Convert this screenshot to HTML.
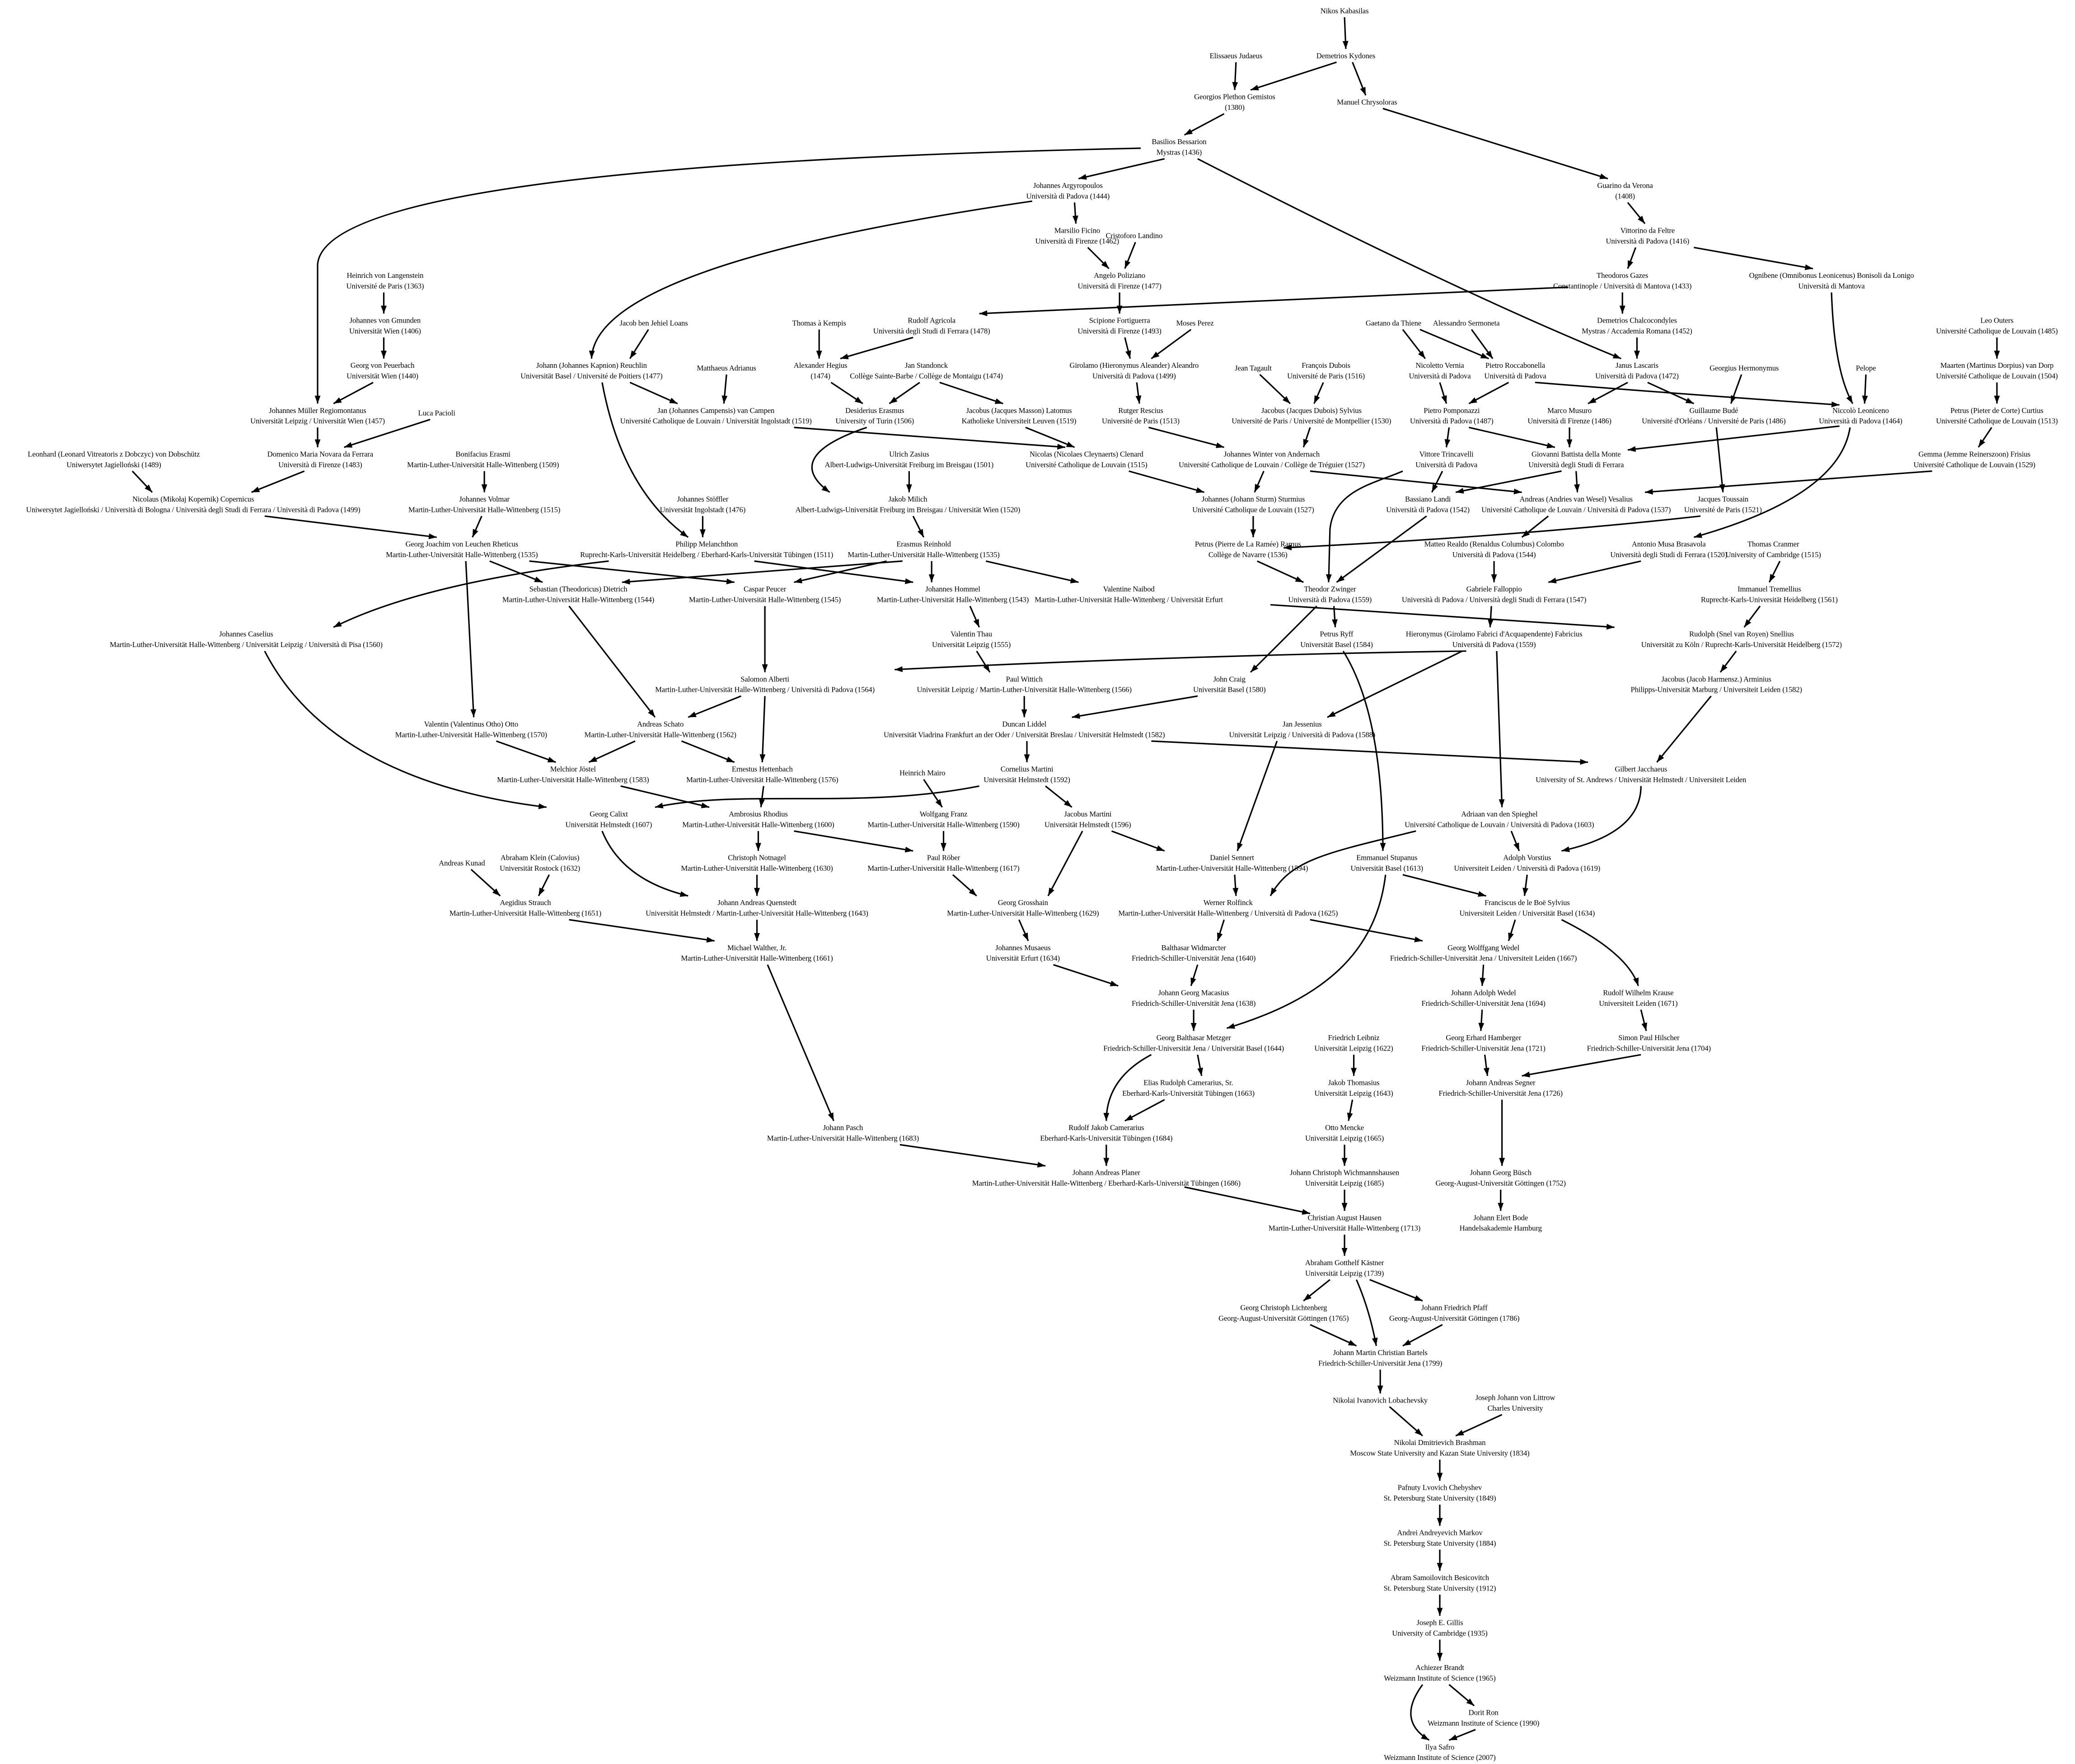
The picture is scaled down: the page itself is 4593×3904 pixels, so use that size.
<!DOCTYPE html>
<html><head><meta charset="utf-8"><style>
html,body{margin:0;padding:0;background:#fff;}
svg{display:block;}
text{font-family:"Liberation Serif","DejaVu Serif",serif;font-size:5.7px;letter-spacing:-0.05px;text-anchor:middle;fill:#000;}
path{fill:none;stroke:#000;stroke-width:1.1;}
</style></head><body>
<svg width="4593" height="3904" viewBox="0 0 1568 1333" preserveAspectRatio="none" xmlns="http://www.w3.org/2000/svg">
<defs><marker id="a" markerUnits="userSpaceOnUse" markerWidth="7" markerHeight="5" refX="6" refY="2.2" orient="auto"><path d="M0,0 L6,2.2 L0,4.4 z" style="fill:#000;stroke:none"/></marker></defs>
<rect width="1568" height="1333" fill="#fff"/>
<g marker-end="url(#a)">
<path d="M1016,13 L1017,37"/>
<path d="M934,47 L933,68"/>
<path d="M1010,47 L945,68"/>
<path d="M1022,47 L1032,72"/>
<path d="M925,86 L895,102"/>
<path d="M1045,82 L1215,135"/>
<path d="M880,120 L815,135"/>
<path d="M862,112 Q245,125 240,200 L240,305"/>
<path d="M905,120 Q1100,220 1225,271"/>
<path d="M1230,153 L1243,169"/>
<path d="M812,153 L813,169"/>
<path d="M780,152 Q450,200 447,271"/>
<path d="M1236,187 L1230,203"/>
<path d="M1280,187 L1370,203"/>
<path d="M822,187 L838,203"/>
<path d="M858,183 L850,203"/>
<path d="M846,221 L846,237"/>
<path d="M1185,217 Q900,230 740,237"/>
<path d="M1226,221 L1226,237"/>
<path d="M1384,221 Q1386,280 1400,305"/>
<path d="M290,221 L290,237"/>
<path d="M290,255 L290,271"/>
<path d="M282,289 L252,305"/>
<path d="M490,249 L476,271"/>
<path d="M619,249 L619,271"/>
<path d="M690,255 L635,271"/>
<path d="M850,255 L854,271"/>
<path d="M900,249 L870,271"/>
<path d="M1060,249 L1077,271"/>
<path d="M1073,249 L1125,271"/>
<path d="M1112,249 L1128,271"/>
<path d="M1237,255 L1237,271"/>
<path d="M1509,255 L1509,271"/>
<path d="M476,289 L512,305"/>
<path d="M455,289 Q470,370 520,406"/>
<path d="M549,283 L547,305"/>
<path d="M628,289 L652,305"/>
<path d="M695,289 L672,305"/>
<path d="M710,289 L758,305"/>
<path d="M859,289 L861,305"/>
<path d="M952,283 L975,305"/>
<path d="M1000,289 L993,305"/>
<path d="M1088,289 L1093,305"/>
<path d="M1140,289 L1110,305"/>
<path d="M1160,289 Q1300,300 1390,306"/>
<path d="M1230,289 L1200,305"/>
<path d="M1245,289 L1280,305"/>
<path d="M1316,283 L1308,305"/>
<path d="M1410,283 L1409,305"/>
<path d="M1509,289 L1509,305"/>
<path d="M240,323 L240,338"/>
<path d="M325,317 L260,338"/>
<path d="M600,323 L805,338"/>
<path d="M655,323 Q590,345 627,372"/>
<path d="M775,323 L812,338"/>
<path d="M868,323 L925,338"/>
<path d="M990,323 L985,338"/>
<path d="M1095,323 L1093,338"/>
<path d="M1110,323 L1175,338"/>
<path d="M1186,323 L1186,338"/>
<path d="M1390,322 L1230,340"/>
<path d="M1505,323 L1495,338"/>
<path d="M100,356 L115,372"/>
<path d="M230,356 L190,372"/>
<path d="M366,356 L366,372"/>
<path d="M687,356 L687,372"/>
<path d="M853,356 L910,372"/>
<path d="M955,356 L948,372"/>
<path d="M990,356 L1150,372"/>
<path d="M1090,356 L1082,372"/>
<path d="M1060,356 C1040,365 1008,370 1005,400 L1004,440"/>
<path d="M1180,356 L1100,372"/>
<path d="M1191,356 L1192,372"/>
<path d="M1460,356 L1243,372"/>
<path d="M1297,323 L1302,372"/>
<path d="M1398,323 Q1390,375 1280,406"/>
<path d="M200,390 L330,406"/>
<path d="M364,390 L357,406"/>
<path d="M531,390 L531,406"/>
<path d="M690,390 L698,406"/>
<path d="M947,390 L947,406"/>
<path d="M1078,390 L1010,440"/>
<path d="M1170,390 L1150,406"/>
<path d="M1285,390 Q1150,405 970,414"/>
<path d="M370,424 L410,440"/>
<path d="M400,424 L555,440"/>
<path d="M352,424 L358,542"/>
<path d="M460,424 Q320,440 252,474"/>
<path d="M570,424 L690,440"/>
<path d="M682,424 L470,440"/>
<path d="M670,424 L600,440"/>
<path d="M704,424 L704,440"/>
<path d="M745,424 L815,440"/>
<path d="M950,424 L985,440"/>
<path d="M1129,424 L1129,440"/>
<path d="M1240,424 L1170,440"/>
<path d="M1345,424 L1337,440"/>
<path d="M430,458 L495,542"/>
<path d="M578,458 L578,508"/>
<path d="M733,458 L740,474"/>
<path d="M960,457 L1220,474"/>
<path d="M1008,458 L1009,474"/>
<path d="M995,458 L945,508"/>
<path d="M1127,458 L1126,474"/>
<path d="M1330,458 L1318,474"/>
<path d="M200,492 C240,570 330,600 413,610"/>
<path d="M738,492 L748,508"/>
<path d="M1015,492 Q1045,540 1045,643"/>
<path d="M1108,492 Q900,495 676,506"/>
<path d="M1105,492 L1003,542"/>
<path d="M1131,492 L1135,610"/>
<path d="M1312,492 L1300,508"/>
<path d="M560,526 L520,542"/>
<path d="M578,526 L576,576"/>
<path d="M774,526 L774,542"/>
<path d="M905,526 L810,542"/>
<path d="M1293,526 L1252,576"/>
<path d="M375,560 L420,576"/>
<path d="M480,560 L445,576"/>
<path d="M515,560 L555,576"/>
<path d="M776,560 L776,576"/>
<path d="M870,560 L1200,576"/>
<path d="M965,560 L935,643"/>
<path d="M469,594 L536,610"/>
<path d="M577,594 L575,610"/>
<path d="M740,594 C650,612 560,596 495,610"/>
<path d="M790,594 L810,610"/>
<path d="M1240,594 Q1240,630 1180,643"/>
<path d="M698,589 L712,610"/>
<path d="M455,628 Q470,665 520,677"/>
<path d="M573,628 L573,643"/>
<path d="M600,628 L690,643"/>
<path d="M713,628 L713,643"/>
<path d="M840,628 L880,643"/>
<path d="M818,628 L792,677"/>
<path d="M1142,628 L1148,643"/>
<path d="M1070,628 C1000,645 975,650 960,677"/>
<path d="M356,657 L378,677"/>
<path d="M415,661 L407,677"/>
<path d="M572,661 L572,677"/>
<path d="M720,661 L738,677"/>
<path d="M933,661 L934,677"/>
<path d="M1060,661 L1123,677"/>
<path d="M1047,661 C1040,720 1000,755 927,777"/>
<path d="M1154,661 L1152,677"/>
<path d="M430,695 L540,711"/>
<path d="M572,695 L572,711"/>
<path d="M770,695 L777,711"/>
<path d="M925,695 L920,711"/>
<path d="M990,695 L1075,711"/>
<path d="M1145,695 L1140,711"/>
<path d="M1180,695 Q1230,720 1238,745"/>
<path d="M580,729 L630,847"/>
<path d="M796,729 L845,745"/>
<path d="M905,729 L900,745"/>
<path d="M1121,729 L1120,745"/>
<path d="M902,763 L902,779"/>
<path d="M1120,763 L1119,779"/>
<path d="M1240,763 L1244,779"/>
<path d="M905,797 L908,813"/>
<path d="M870,797 Q836,815 836,847"/>
<path d="M1023,797 L1023,813"/>
<path d="M1122,797 L1124,813"/>
<path d="M1240,797 L1150,813"/>
<path d="M880,831 L850,847"/>
<path d="M1022,831 L1019,847"/>
<path d="M1135,831 L1135,881"/>
<path d="M680,865 L790,881"/>
<path d="M836,865 L836,881"/>
<path d="M1016,865 L1016,881"/>
<path d="M895,897 L990,917"/>
<path d="M1016,899 L1016,915"/>
<path d="M1134,899 L1134,915"/>
<path d="M1016,933 L1016,949"/>
<path d="M1005,967 L985,983"/>
<path d="M1035,967 L1075,983"/>
<path d="M1025,967 Q1035,990 1040,1017"/>
<path d="M990,1001 L1025,1017"/>
<path d="M1090,1001 L1060,1017"/>
<path d="M1043,1035 L1043,1053"/>
<path d="M1050,1063 L1075,1085"/>
<path d="M1135,1069 L1100,1085"/>
<path d="M1088,1103 L1088,1119"/>
<path d="M1088,1137 L1088,1153"/>
<path d="M1088,1171 L1088,1187"/>
<path d="M1088,1205 L1088,1221"/>
<path d="M1088,1239 L1088,1255"/>
<path d="M1095,1273 L1114,1289"/>
<path d="M1075,1273 Q1055,1300 1080,1315"/>
<path d="M1115,1307 L1095,1315"/>
</g>
<g>
<text x="1016" y="10">Nikos Kabasilas</text>
<text x="934" y="44">Elissaeus Judaeus</text>
<text x="1017" y="44">Demetrios Kydones</text>
<text x="933" y="75">Georgios Plethon Gemistos<tspan x="933" dy="8">(1380)</tspan></text>
<text x="1033" y="79">Manuel Chrysoloras</text>
<text x="891" y="109">Basilios Bessarion<tspan x="891" dy="8">Mystras (1436)</tspan></text>
<text x="1228" y="142">Guarino da Verona<tspan x="1228" dy="8">(1408)</tspan></text>
<text x="807" y="142">Johannes Argyropoulos<tspan x="807" dy="8">Università di Padova (1444)</tspan></text>
<text x="1245" y="176">Vittorino da Feltre<tspan x="1245" dy="8">Università di Padova (1416)</tspan></text>
<text x="814" y="176">Marsilio Ficino<tspan x="814" dy="8">Università di Firenze (1462)</tspan></text>
<text x="857" y="180">Cristoforo Landino</text>
<text x="846" y="210">Angelo Poliziano<tspan x="846" dy="8">Università di Firenze (1477)</tspan></text>
<text x="1226" y="210">Theodoros Gazes<tspan x="1226" dy="8">Constantinople / Università di Mantova (1433)</tspan></text>
<text x="1384" y="210">Ognibene (Omnibonus Leonicenus) Bonisoli da Lonigo<tspan x="1384" dy="8">Università di Mantova</tspan></text>
<text x="291" y="210">Heinrich von Langenstein<tspan x="291" dy="8">Université de Paris (1363)</tspan></text>
<text x="291" y="244">Johannes von Gmunden<tspan x="291" dy="8">Universität Wien (1406)</tspan></text>
<text x="494" y="246">Jacob ben Jehiel Loans</text>
<text x="619" y="246">Thomas à Kempis</text>
<text x="704" y="244">Rudolf Agricola<tspan x="704" dy="8">Università degli Studi di Ferrara (1478)</tspan></text>
<text x="846" y="244">Scipione Fortiguerra<tspan x="846" dy="8">Università di Firenze (1493)</tspan></text>
<text x="903" y="246">Moses Perez</text>
<text x="1053" y="246">Gaetano da Thiene</text>
<text x="1108" y="246">Alessandro Sermoneta</text>
<text x="1237" y="244">Demetrios Chalcocondyles<tspan x="1237" dy="8">Mystras / Accademia Romana (1452)</tspan></text>
<text x="1509" y="244">Leo Outers<tspan x="1509" dy="8">Université Catholique de Louvain (1485)</tspan></text>
<text x="289" y="278">Georg von Peuerbach<tspan x="289" dy="8">Universität Wien (1440)</tspan></text>
<text x="447" y="278">Johann (Johannes Kapnion) Reuchlin<tspan x="447" dy="8">Universität Basel / Université de Poitiers (1477)</tspan></text>
<text x="549" y="280">Matthaeus Adrianus</text>
<text x="620" y="278">Alexander Hegius<tspan x="620" dy="8">(1474)</tspan></text>
<text x="700" y="278">Jan Standonck<tspan x="700" dy="8">Collège Sainte-Barbe / Collège de Montaigu (1474)</tspan></text>
<text x="857" y="278">Girolamo (Hieronymus Aleander) Aleandro<tspan x="857" dy="8">Università di Padova (1499)</tspan></text>
<text x="947" y="280">Jean Tagault</text>
<text x="1002" y="278">François Dubois<tspan x="1002" dy="8">Université de Paris (1516)</tspan></text>
<text x="1088" y="278">Nicoletto Vernia<tspan x="1088" dy="8">Università di Padova</tspan></text>
<text x="1145" y="278">Pietro Roccabonella<tspan x="1145" dy="8">Università di Padova</tspan></text>
<text x="1237" y="278">Janus Lascaris<tspan x="1237" dy="8">Università di Padova (1472)</tspan></text>
<text x="1318" y="280">Georgius Hermonymus</text>
<text x="1509" y="278">Maarten (Martinus Dorpius) van Dorp<tspan x="1509" dy="8">Université Catholique de Louvain (1504)</tspan></text>
<text x="1410" y="280">Pelope</text>
<text x="240" y="312">Johannes Müller Regiomontanus<tspan x="240" dy="8">Universität Leipzig / Universität Wien (1457)</tspan></text>
<text x="330" y="314">Luca Pacioli</text>
<text x="541" y="312">Jan (Johannes Campensis) van Campen<tspan x="541" dy="8">Université Catholique de Louvain / Universität Ingolstadt (1519)</tspan></text>
<text x="661" y="312">Desiderius Erasmus<tspan x="661" dy="8">University of Turin (1506)</tspan></text>
<text x="770" y="312">Jacobus (Jacques Masson) Latomus<tspan x="770" dy="8">Katholieke Universiteit Leuven (1519)</tspan></text>
<text x="862" y="312">Rutger Rescius<tspan x="862" dy="8">Université de Paris (1513)</tspan></text>
<text x="991" y="312">Jacobus (Jacques Dubois) Sylvius<tspan x="991" dy="8">Université de Paris / Université de Montpellier (1530)</tspan></text>
<text x="1097" y="312">Pietro Pomponazzi<tspan x="1097" dy="8">Università di Padova (1487)</tspan></text>
<text x="1186" y="312">Marco Musuro<tspan x="1186" dy="8">Università di Firenze (1486)</tspan></text>
<text x="1295" y="312">Guillaume Budé<tspan x="1295" dy="8">Université d'Orléans / Université de Paris (1486)</tspan></text>
<text x="1406" y="312">Niccolò Leoniceno<tspan x="1406" dy="8">Università di Padova (1464)</tspan></text>
<text x="1509" y="312">Petrus (Pieter de Corte) Curtius<tspan x="1509" dy="8">Université Catholique de Louvain (1513)</tspan></text>
<text x="86" y="345">Leonhard (Leonard Vitreatoris z Dobczyc) von Dobschütz<tspan x="86" dy="8">Uniwersytet Jagielloński (1489)</tspan></text>
<text x="242" y="345">Domenico Maria Novara da Ferrara<tspan x="242" dy="8">Università di Firenze (1483)</tspan></text>
<text x="365" y="345">Bonifacius Erasmi<tspan x="365" dy="8">Martin-Luther-Universität Halle-Wittenberg (1509)</tspan></text>
<text x="687" y="345">Ulrich Zasius<tspan x="687" dy="8">Albert-Ludwigs-Universität Freiburg im Breisgau (1501)</tspan></text>
<text x="821" y="345">Nicolas (Nicolaes Cleynaerts) Clenard<tspan x="821" dy="8">Université Catholique de Louvain (1515)</tspan></text>
<text x="961" y="345">Johannes Winter von Andernach<tspan x="961" dy="8">Université Catholique de Louvain / Collège de Tréguier (1527)</tspan></text>
<text x="1093" y="345">Vittore Trincavelli<tspan x="1093" dy="8">Università di Padova</tspan></text>
<text x="1191" y="345">Giovanni Battista della Monte<tspan x="1191" dy="8">Università degli Studi di Ferrara</tspan></text>
<text x="1492" y="345">Gemma (Jemme Reinerszoon) Frisius<tspan x="1492" dy="8">Université Catholique de Louvain (1529)</tspan></text>
<text x="146" y="379">Nicolaus (Mikołaj Kopernik) Copernicus<tspan x="146" dy="8">Uniwersytet Jagielloński / Università di Bologna / Università degli Studi di Ferrara / Università di Padova (1499)</tspan></text>
<text x="366" y="379">Johannes Volmar<tspan x="366" dy="8">Martin-Luther-Universität Halle-Wittenberg (1515)</tspan></text>
<text x="531" y="379">Johannes Stöffler<tspan x="531" dy="8">Universität Ingolstadt (1476)</tspan></text>
<text x="686" y="379">Jakob Milich<tspan x="686" dy="8">Albert-Ludwigs-Universität Freiburg im Breisgau / Universität Wien (1520)</tspan></text>
<text x="947" y="379">Johannes (Johann Sturm) Sturmius<tspan x="947" dy="8">Université Catholique de Louvain (1527)</tspan></text>
<text x="1079" y="379">Bassiano Landi<tspan x="1079" dy="8">Università di Padova (1542)</tspan></text>
<text x="1191" y="379">Andreas (Andries van Wesel) Vesalius<tspan x="1191" dy="8">Université Catholique de Louvain / Università di Padova (1537)</tspan></text>
<text x="1302" y="379">Jacques Toussain<tspan x="1302" dy="8">Université de Paris (1521)</tspan></text>
<text x="349" y="413">Georg Joachim von Leuchen Rheticus<tspan x="349" dy="8">Martin-Luther-Universität Halle-Wittenberg (1535)</tspan></text>
<text x="534" y="413">Philipp Melanchthon<tspan x="534" dy="8">Ruprecht-Karls-Universität Heidelberg / Eberhard-Karls-Universität Tübingen (1511)</tspan></text>
<text x="698" y="413">Erasmus Reinhold<tspan x="698" dy="8">Martin-Luther-Universität Halle-Wittenberg (1535)</tspan></text>
<text x="943" y="413">Petrus (Pierre de La Ramée) Ramus<tspan x="943" dy="8">Collège de Navarre (1536)</tspan></text>
<text x="1129" y="413">Matteo Realdo (Renaldus Columbus) Colombo<tspan x="1129" dy="8">Università di Padova (1544)</tspan></text>
<text x="1261" y="413">Antonio Musa Brasavola<tspan x="1261" dy="8">Università degli Studi di Ferrara (1520)</tspan></text>
<text x="1340" y="413">Thomas Cranmer<tspan x="1340" dy="8">University of Cambridge (1515)</tspan></text>
<text x="437" y="447">Sebastian (Theodoricus) Dietrich<tspan x="437" dy="8">Martin-Luther-Universität Halle-Wittenberg (1544)</tspan></text>
<text x="578" y="447">Caspar Peucer<tspan x="578" dy="8">Martin-Luther-Universität Halle-Wittenberg (1545)</tspan></text>
<text x="720" y="447">Johannes Hommel<tspan x="720" dy="8">Martin-Luther-Universität Halle-Wittenberg (1543)</tspan></text>
<text x="853" y="447">Valentine Naibod<tspan x="853" dy="8">Martin-Luther-Universität Halle-Wittenberg / Universität Erfurt</tspan></text>
<text x="1005" y="447">Theodor Zwinger<tspan x="1005" dy="8">Università di Padova (1559)</tspan></text>
<text x="1129" y="447">Gabriele Falloppio<tspan x="1129" dy="8">Università di Padova / Università degli Studi di Ferrara (1547)</tspan></text>
<text x="1337" y="447">Immanuel Tremellius<tspan x="1337" dy="8">Ruprecht-Karls-Universität Heidelberg (1561)</tspan></text>
<text x="186" y="481">Johannes Caselius<tspan x="186" dy="8">Martin-Luther-Universität Halle-Wittenberg / Universität Leipzig / Università di Pisa (1560)</tspan></text>
<text x="734" y="481">Valentin Thau<tspan x="734" dy="8">Universität Leipzig (1555)</tspan></text>
<text x="1010" y="481">Petrus Ryff<tspan x="1010" dy="8">Universität Basel (1584)</tspan></text>
<text x="1129" y="481">Hieronymus (Girolamo Fabrici d'Acquapendente) Fabricius<tspan x="1129" dy="8">Università di Padova (1559)</tspan></text>
<text x="1316" y="481">Rudolph (Snel van Royen) Snellius<tspan x="1316" dy="8">Universität zu Köln / Ruprecht-Karls-Universität Heidelberg (1572)</tspan></text>
<text x="578" y="515">Salomon Alberti<tspan x="578" dy="8">Martin-Luther-Universität Halle-Wittenberg / Università di Padova (1564)</tspan></text>
<text x="774" y="515">Paul Wittich<tspan x="774" dy="8">Universität Leipzig / Martin-Luther-Universität Halle-Wittenberg (1566)</tspan></text>
<text x="929" y="515">John Craig<tspan x="929" dy="8">Universität Basel (1580)</tspan></text>
<text x="1297" y="515">Jacobus (Jacob Harmensz.) Arminius<tspan x="1297" dy="8">Philipps-Universität Marburg / Universiteit Leiden (1582)</tspan></text>
<text x="356" y="549">Valentin (Valentinus Otho) Otto<tspan x="356" dy="8">Martin-Luther-Universität Halle-Wittenberg (1570)</tspan></text>
<text x="499" y="549">Andreas Schato<tspan x="499" dy="8">Martin-Luther-Universität Halle-Wittenberg (1562)</tspan></text>
<text x="774" y="549">Duncan Liddel<tspan x="774" dy="8">Universität Viadrina Frankfurt an der Oder / Universität Breslau / Universität Helmstedt (1582)</tspan></text>
<text x="984" y="549">Jan Jessenius<tspan x="984" dy="8">Universität Leipzig / Università di Padova (1588)</tspan></text>
<text x="433" y="583">Melchior Jöstel<tspan x="433" dy="8">Martin-Luther-Universität Halle-Wittenberg (1583)</tspan></text>
<text x="576" y="583">Ernestus Hettenbach<tspan x="576" dy="8">Martin-Luther-Universität Halle-Wittenberg (1576)</tspan></text>
<text x="776" y="583">Cornelius Martini<tspan x="776" dy="8">Universität Helmstedt (1592)</tspan></text>
<text x="1240" y="583">Gilbert Jacchaeus<tspan x="1240" dy="8">University of St. Andrews / Universität Helmstedt / Universiteit Leiden</tspan></text>
<text x="697" y="586">Heinrich Mairo</text>
<text x="460" y="617">Georg Calixt<tspan x="460" dy="8">Universität Helmstedt (1607)</tspan></text>
<text x="573" y="617">Ambrosius Rhodius<tspan x="573" dy="8">Martin-Luther-Universität Halle-Wittenberg (1600)</tspan></text>
<text x="713" y="617">Wolfgang Franz<tspan x="713" dy="8">Martin-Luther-Universität Halle-Wittenberg (1590)</tspan></text>
<text x="822" y="617">Jacobus Martini<tspan x="822" dy="8">Universität Helmstedt (1596)</tspan></text>
<text x="1133" y="617">Adriaan van den Spieghel<tspan x="1133" dy="8">Université Catholique de Louvain / Università di Padova (1603)</tspan></text>
<text x="349" y="654">Andreas Kunad</text>
<text x="408" y="650">Abraham Klein (Calovius)<tspan x="408" dy="8">Universität Rostock (1632)</tspan></text>
<text x="572" y="650">Christoph Notnagel<tspan x="572" dy="8">Martin-Luther-Universität Halle-Wittenberg (1630)</tspan></text>
<text x="713" y="650">Paul Röber<tspan x="713" dy="8">Martin-Luther-Universität Halle-Wittenberg (1617)</tspan></text>
<text x="931" y="650">Daniel Sennert<tspan x="931" dy="8">Martin-Luther-Universität Halle-Wittenberg (1594)</tspan></text>
<text x="1048" y="650">Emmanuel Stupanus<tspan x="1048" dy="8">Universität Basel (1613)</tspan></text>
<text x="1154" y="650">Adolph Vorstius<tspan x="1154" dy="8">Universiteit Leiden / Università di Padova (1619)</tspan></text>
<text x="397" y="684">Aegidius Strauch<tspan x="397" dy="8">Martin-Luther-Universität Halle-Wittenberg (1651)</tspan></text>
<text x="572" y="684">Johann Andreas Quenstedt<tspan x="572" dy="8">Universität Helmstedt / Martin-Luther-Universität Halle-Wittenberg (1643)</tspan></text>
<text x="773" y="684">Georg Grosshain<tspan x="773" dy="8">Martin-Luther-Universität Halle-Wittenberg (1629)</tspan></text>
<text x="928" y="684">Werner Rolfinck<tspan x="928" dy="8">Martin-Luther-Universität Halle-Wittenberg / Università di Padova (1625)</tspan></text>
<text x="1154" y="684">Franciscus de le Boë Sylvius<tspan x="1154" dy="8">Universiteit Leiden / Universität Basel (1634)</tspan></text>
<text x="572" y="718">Michael Walther, Jr.<tspan x="572" dy="8">Martin-Luther-Universität Halle-Wittenberg (1661)</tspan></text>
<text x="773" y="718">Johannes Musaeus<tspan x="773" dy="8">Universität Erfurt (1634)</tspan></text>
<text x="902" y="718">Balthasar Widmarcter<tspan x="902" dy="8">Friedrich-Schiller-Universität Jena (1640)</tspan></text>
<text x="1121" y="718">Georg Wolffgang Wedel<tspan x="1121" dy="8">Friedrich-Schiller-Universität Jena / Universiteit Leiden (1667)</tspan></text>
<text x="902" y="752">Johann Georg Macasius<tspan x="902" dy="8">Friedrich-Schiller-Universität Jena (1638)</tspan></text>
<text x="1121" y="752">Johann Adolph Wedel<tspan x="1121" dy="8">Friedrich-Schiller-Universität Jena (1694)</tspan></text>
<text x="1238" y="752">Rudolf Wilhelm Krause<tspan x="1238" dy="8">Universiteit Leiden (1671)</tspan></text>
<text x="902" y="786">Georg Balthasar Metzger<tspan x="902" dy="8">Friedrich-Schiller-Universität Jena / Universität Basel (1644)</tspan></text>
<text x="1023" y="786">Friedrich Leibniz<tspan x="1023" dy="8">Universität Leipzig (1622)</tspan></text>
<text x="1121" y="786">Georg Erhard Hamberger<tspan x="1121" dy="8">Friedrich-Schiller-Universität Jena (1721)</tspan></text>
<text x="1246" y="786">Simon Paul Hilscher<tspan x="1246" dy="8">Friedrich-Schiller-Universität Jena (1704)</tspan></text>
<text x="898" y="820">Elias Rudolph Camerarius, Sr.<tspan x="898" dy="8">Eberhard-Karls-Universität Tübingen (1663)</tspan></text>
<text x="1023" y="820">Jakob Thomasius<tspan x="1023" dy="8">Universität Leipzig (1643)</tspan></text>
<text x="1134" y="820">Johann Andreas Segner<tspan x="1134" dy="8">Friedrich-Schiller-Universität Jena (1726)</tspan></text>
<text x="637" y="854">Johann Pasch<tspan x="637" dy="8">Martin-Luther-Universität Halle-Wittenberg (1683)</tspan></text>
<text x="836" y="854">Rudolf Jakob Camerarius<tspan x="836" dy="8">Eberhard-Karls-Universität Tübingen (1684)</tspan></text>
<text x="1016" y="854">Otto Mencke<tspan x="1016" dy="8">Universität Leipzig (1665)</tspan></text>
<text x="836" y="888">Johann Andreas Planer<tspan x="836" dy="8">Martin-Luther-Universität Halle-Wittenberg / Eberhard-Karls-Universität Tübingen (1686)</tspan></text>
<text x="1016" y="888">Johann Christoph Wichmannshausen<tspan x="1016" dy="8">Universität Leipzig (1685)</tspan></text>
<text x="1134" y="888">Johann Georg Büsch<tspan x="1134" dy="8">Georg-August-Universität Göttingen (1752)</tspan></text>
<text x="1016" y="922">Christian August Hausen<tspan x="1016" dy="8">Martin-Luther-Universität Halle-Wittenberg (1713)</tspan></text>
<text x="1134" y="922">Johann Elert Bode<tspan x="1134" dy="8">Handelsakademie Hamburg</tspan></text>
<text x="1016" y="956">Abraham Gotthelf Kästner<tspan x="1016" dy="8">Universität Leipzig (1739)</tspan></text>
<text x="970" y="990">Georg Christoph Lichtenberg<tspan x="970" dy="8">Georg-August-Universität Göttingen (1765)</tspan></text>
<text x="1099" y="990">Johann Friedrich Pfaff<tspan x="1099" dy="8">Georg-August-Universität Göttingen (1786)</tspan></text>
<text x="1043" y="1024">Johann Martin Christian Bartels<tspan x="1043" dy="8">Friedrich-Schiller-Universität Jena (1799)</tspan></text>
<text x="1043" y="1060">Nikolai Ivanovich Lobachevsky</text>
<text x="1145" y="1058">Joseph Johann von Littrow<tspan x="1145" dy="8">Charles University</tspan></text>
<text x="1088" y="1092">Nikolai Dmitrievich Brashman<tspan x="1088" dy="8">Moscow State University and Kazan State University (1834)</tspan></text>
<text x="1088" y="1126">Pafnuty Lvovich Chebyshev<tspan x="1088" dy="8">St. Petersburg State University (1849)</tspan></text>
<text x="1088" y="1160">Andrei Andreyevich Markov<tspan x="1088" dy="8">St. Petersburg State University (1884)</tspan></text>
<text x="1088" y="1194">Abram Samoilovitch Besicovitch<tspan x="1088" dy="8">St. Petersburg State University (1912)</tspan></text>
<text x="1088" y="1228">Joseph E. Gillis<tspan x="1088" dy="8">University of Cambridge (1935)</tspan></text>
<text x="1088" y="1262">Achiezer Brandt<tspan x="1088" dy="8">Weizmann Institute of Science (1965)</tspan></text>
<text x="1121" y="1296">Dorit Ron<tspan x="1121" dy="8">Weizmann Institute of Science (1990)</tspan></text>
<text x="1088" y="1322">Ilya Safro<tspan x="1088" dy="8">Weizmann Institute of Science (2007)</tspan></text>
</g>
</svg>
</body></html>
